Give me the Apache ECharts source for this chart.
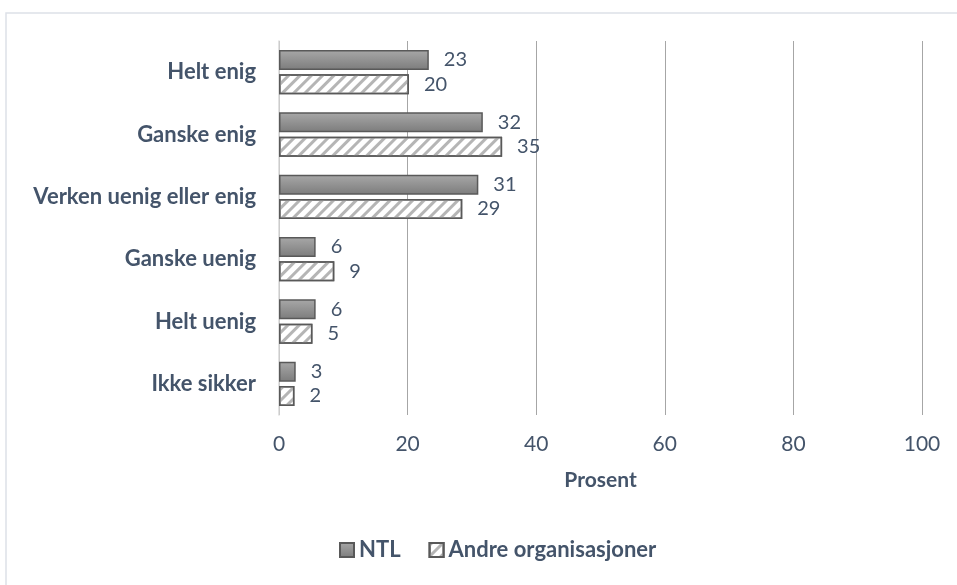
<!DOCTYPE html>
<html>
<head>
<meta charset="utf-8">
<script src="https://cdn.jsdelivr.net/npm/echarts@6/dist/echarts.min.js"></script>
<style>
  html, body { margin: 0; padding: 0; background: #fff; }
  #chart { width: 957px; height: 585px; }
</style>
</head>
<body>
<div id="chart"></div>
<script>
const categories = [
  'Helt enig',
  'Ganske enig',
  'Verken uenig eller enig',
  'Ganske uenig',
  'Helt uenig',
  'Ikke sikker'
]
const ntlValues = [23.3, 31.7, 31.0, 5.7, 5.7, 2.6]
const andreValues = [20.2, 34.7, 28.5, 8.6, 5.2, 2.4]
const xTicks = [0, 20, 40, 60, 80, 100]

const textColor = '#44546a'
const fontFamily = 'Lato, "Open Sans", sans-serif'

const chart = echarts.init(document.getElementById('chart'))

const barLabel = {
  show: true,
  position: 'right',
  distance: 15,
  color: textColor,
  fontSize: 20,
  fontFamily: fontFamily,
  formatter: p => Math.round(p.value)
}

chart.setOption({
  backgroundColor: '#fff',
  animation: false,
  graphic: [
    {
      type: 'rect',
      shape: { x: 6, y: 13, width: 1000, height: 1000 },
      style: { fill: 'none', stroke: '#dde1e8', lineWidth: 1.5 },
      silent: true
    }
  ],
  grid: {
    left: 279,
    right: 35,
    top: 41,
    bottom: 170
  },
  legend: {
    bottom: 19,
    left: 334,
    itemWidth: 14,
    itemHeight: 14,
    itemGap: 28,
    icon: 'rect',
    textStyle: {
      color: textColor,
      fontSize: 22,
      fontWeight: 'bold',
      fontFamily: fontFamily
    },
    data: ['NTL', 'Andre organisasjoner']
  },
  xAxis: {
    type: 'value',
    min: 0,
    max: 100,
    interval: 20,
    name: 'Prosent',
    nameLocation: 'middle',
    nameGap: 55,
    nameTextStyle: {
      color: textColor,
      fontSize: 21,
      fontWeight: 'bold',
      fontFamily: fontFamily
    },
    axisLine: { show: false },
    axisTick: { show: false },
    axisLabel: {
      color: textColor,
      fontSize: 21,
      fontFamily: fontFamily,
      margin: 19,
      formatter: v => (xTicks.includes(v) ? String(v) : '')
    },
    splitLine: {
      show: true,
      lineStyle: { color: '#a6a6a6', width: 1 }
    }
  },
  yAxis: {
    type: 'category',
    data: categories,
    inverse: true,
    axisTick: { show: false },
    axisLine: {
      show: true,
      lineStyle: { color: '#d9d9d9', width: 1.5 }
    },
    axisLabel: {
      color: textColor,
      fontSize: 22,
      fontWeight: 'bold',
      fontFamily: fontFamily,
      margin: 23
    }
  },
  series: [
    {
      name: 'NTL',
      type: 'bar',
      data: ntlValues,
      barWidth: 20,
      barGap: '22%',
      itemStyle: {
        color: {
          type: 'linear', x: 0, y: 0, x2: 0, y2: 1,
          colorStops: [
            { offset: 0, color: '#a8a8a8' },
            { offset: 1, color: '#7c7c7c' }
          ]
        },
        borderColor: '#595959',
        borderWidth: 1.5
      },
      label: barLabel
    },
    {
      name: 'Andre organisasjoner',
      type: 'bar',
      data: andreValues,
      barWidth: 20,
      itemStyle: {
        color: '#ffffff',
        borderColor: '#595959',
        borderWidth: 1.5,
        decal: {
          symbol: 'rect',
          symbolSize: 1,
          dashArrayX: [1, 0],
          dashArrayY: [3, 5],
          rotation: -Math.PI / 4,
          color: '#b5b5b5'
        }
      },
      label: barLabel
    }
  ]
})
</script>
</body>
</html>
